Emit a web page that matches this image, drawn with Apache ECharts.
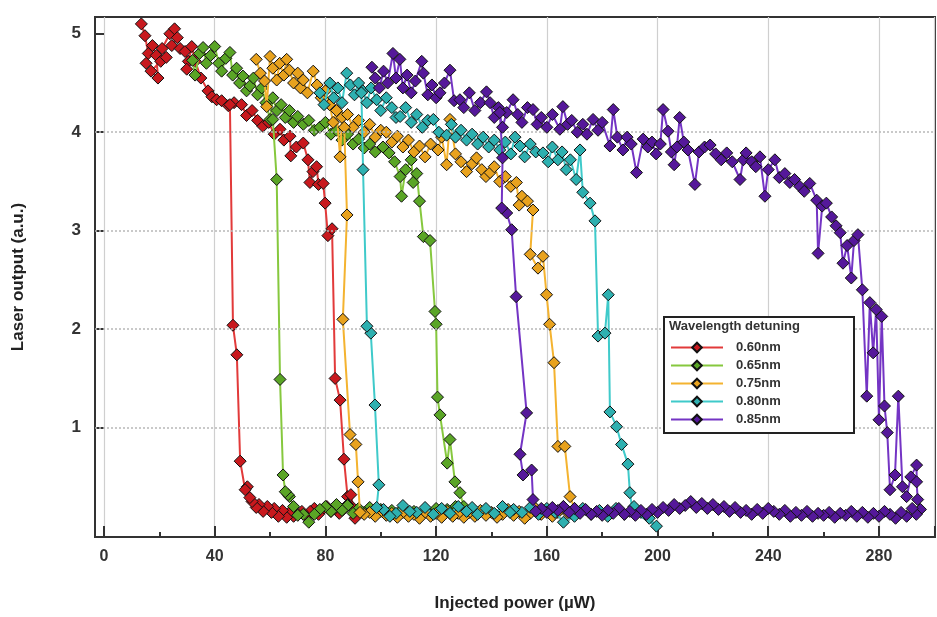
<!DOCTYPE html>
<html><head><meta charset="utf-8">
<script src="https://cdn.jsdelivr.net/npm/echarts@6/dist/echarts.min.js"></script>
<style>html,body{margin:0;padding:0;background:#fff}#c{width:937px;height:617px}</style>
</head><body><div id="c"></div><script>
const xTickLabels = [0,40,80,120,160,200,240,280];
const xMajorTicks = [0,40,80,120,160,200,240,280,300];
const xMinorTicks = [20,60,100,140,180,220,260];
const yTickLabels = [1,2,3,4,5];
const yGridValues = [1,2,3,4];
const seriesNames = ['0.60nm','0.65nm','0.75nm','0.80nm','0.85nm'];

const s060 = [[13.5,5.10],[14.8,4.98],[16.0,4.80],[15.2,4.70],[17.5,4.88],[18.9,4.78],[19.5,4.55],[17.0,4.62],[20.5,4.72],[22.5,4.76],[21.0,4.85],[23.8,5.00],[25.5,5.05],[26.5,4.96],[24.5,4.88],[27.5,4.85],[29.3,4.82],[30.5,4.72],[29.9,4.64],[31.7,4.87],[33.0,4.72],[35.0,4.55],[37.6,4.42],[39.0,4.36],[40.7,4.33],[42.5,4.32],[44.9,4.27],[47.0,4.30],[49.7,4.28],[51.5,4.17],[53.5,4.22],[55.5,4.12],[57.4,4.06],[59.5,4.10],[61.5,3.98],[63.6,4.03],[65.0,3.92],[67.2,3.96],[67.5,3.76],[69.5,3.85],[72.0,3.89],[73.7,3.72],[74.4,3.49],[75.5,3.60],[76.8,3.65],[77.5,3.47],[79.2,3.48],[79.9,3.28],[80.9,2.95],[82.4,3.02],[83.5,1.50],[85.3,1.28],[86.7,0.68],[88.0,0.30],[89.2,0.32],[90.7,0.08],[89.5,0.20],[88.0,0.22],[86.5,0.17],[85.0,0.13],[83.5,0.18],[82.0,0.15],[80.5,0.20],[79.0,0.17],[77.5,0.12],[76.0,0.18],[74.5,0.15],[73.0,0.10],[71.5,0.15],[70.0,0.12],[68.5,0.10],[67.0,0.14],[66.0,0.09],[64.5,0.16],[63.0,0.10],[61.5,0.18],[60.5,0.14],[59.0,0.20],[57.5,0.15],[56.0,0.22],[55.0,0.19],[53.5,0.25],[52.7,0.29],[51.8,0.40],[51.0,0.37],[49.2,0.66],[48.0,1.74],[46.6,2.04],[45.5,4.28]];

const s065 = [[32.0,4.73],[32.9,4.58],[34.5,4.80],[35.8,4.86],[37.0,4.70],[38.5,4.78],[40.0,4.87],[41.5,4.70],[42.5,4.62],[44.0,4.75],[45.5,4.81],[46.5,4.58],[47.9,4.65],[49.0,4.50],[50.2,4.57],[51.5,4.42],[52.7,4.47],[54.0,4.55],[55.5,4.38],[57.0,4.45],[58.5,4.30],[60.0,4.13],[61.0,4.35],[62.5,4.22],[64.0,4.28],[65.5,4.15],[67.0,4.22],[68.5,4.10],[70.0,4.16],[72.0,4.08],[74.0,4.12],[76.0,4.02],[78.0,4.05],[80.0,4.10],[82.0,3.98],[84.0,4.02],[86.0,3.92],[88.0,3.98],[90.0,3.88],[92.0,3.93],[94.0,3.84],[96.0,3.88],[98.0,3.80],[100.8,3.85],[103.0,3.79],[105.0,3.70],[107.0,3.55],[107.5,3.35],[109.0,3.62],[111.0,3.72],[111.7,3.49],[113.0,3.58],[114.0,3.30],[115.4,2.94],[117.8,2.90],[119.6,2.18],[120.0,2.05],[120.5,1.31],[121.4,1.13],[124.0,0.64],[125.0,0.88],[126.8,0.45],[128.6,0.34],[130.0,0.20],[128.5,0.15],[127.0,0.20],[125.5,0.12],[124.0,0.17],[122.0,0.14],[120.0,0.18],[118.0,0.12],[116.0,0.16],[114.0,0.11],[112.0,0.15],[110.0,0.13],[108.0,0.18],[106.0,0.12],[104.0,0.16],[102.0,0.13],[100.0,0.17],[98.0,0.12],[96.0,0.19],[94.0,0.14],[92.0,0.18],[90.0,0.13],[88.0,0.21],[86.0,0.16],[84.0,0.22],[82.0,0.15],[80.0,0.20],[78.0,0.17],[76.0,0.12],[74.0,0.04],[72.0,0.12],[70.0,0.11],[68.5,0.20],[67.0,0.30],[66.5,0.32],[65.5,0.35],[64.7,0.52],[63.6,1.49],[62.4,3.52],[61.0,4.13]];

const s075 = [[55.0,4.74],[56.5,4.60],[58.0,4.52],[58.8,4.26],[60.0,4.77],[61.0,4.65],[62.4,4.53],[63.5,4.70],[65.0,4.58],[66.0,4.74],[67.0,4.63],[68.5,4.50],[70.0,4.60],[71.0,4.45],[72.0,4.53],[73.5,4.40],[75.6,4.62],[77.0,4.48],[78.5,4.35],[80.0,4.42],[81.5,4.28],[82.8,4.10],[84.0,4.22],[85.3,3.75],[86.0,4.15],[88.0,4.18],[90.0,4.05],[92.0,4.12],[94.0,4.00],[96.0,4.08],[98.0,3.95],[100.0,4.02],[102.0,4.00],[104.0,3.90],[106.0,3.96],[108.0,3.85],[110.0,3.92],[112.0,3.80],[114.0,3.86],[116.0,3.75],[118.0,3.88],[120.7,3.82],[122.0,3.95],[123.8,3.67],[125.0,4.13],[127.0,3.78],[129.0,3.70],[131.0,3.60],[133.0,3.68],[134.6,3.74],[136.5,3.62],[138.0,3.55],[139.5,3.59],[141.0,3.65],[143.0,3.50],[145.0,3.55],[147.0,3.45],[149.0,3.49],[150.0,3.26],[151.0,3.35],[153.0,3.30],[155.0,3.21],[154.0,2.76],[156.8,2.62],[158.6,2.74],[159.9,2.35],[161.0,2.05],[162.6,1.66],[164.0,0.81],[166.5,0.81],[168.4,0.30],[170.0,0.18],[168.0,0.12],[166.0,0.20],[164.0,0.14],[162.0,0.10],[160.0,0.16],[158.0,0.12],[156.0,0.18],[154.0,0.13],[152.0,0.08],[150.0,0.15],[148.0,0.11],[146.0,0.17],[144.0,0.12],[142.0,0.09],[140.0,0.14],[138.0,0.11],[136.0,0.16],[134.0,0.10],[132.0,0.14],[130.0,0.09],[128.0,0.13],[126.0,0.10],[124.0,0.15],[122.0,0.09],[120.0,0.13],[118.0,0.10],[116.0,0.14],[114.0,0.08],[112.0,0.12],[110.0,0.10],[108.0,0.14],[106.0,0.09],[104.0,0.13],[102.0,0.11],[100.0,0.15],[98.0,0.10],[96.0,0.14],[94.0,0.12],[92.5,0.14],[91.8,0.45],[91.0,0.83],[88.9,0.93],[86.3,2.10],[87.8,3.16],[86.8,4.05]];

const s080 = [[78.0,4.40],[79.5,4.28],[81.6,4.50],[83.0,4.35],[84.5,4.45],[86.0,4.30],[87.7,4.60],[89.0,4.48],[90.5,4.38],[92.0,4.50],[93.5,4.42],[95.0,4.30],[96.5,4.45],[98.5,4.33],[100.0,4.22],[102.0,4.35],[104.0,4.25],[105.5,4.15],[107.0,4.16],[109.0,4.25],[111.0,4.10],[113.0,4.18],[115.0,4.05],[117.0,4.12],[119.0,4.13],[121.0,4.00],[123.8,3.97],[125.5,4.08],[127.0,3.95],[129.0,4.02],[131.0,3.92],[133.0,3.98],[135.0,3.88],[137.0,3.95],[139.0,3.85],[141.0,3.92],[143.0,3.82],[145.0,3.90],[147.0,3.78],[148.5,3.95],[150.3,3.86],[152.0,3.75],[154.0,3.88],[156.0,3.80],[158.6,3.79],[160.5,3.70],[162.0,3.85],[164.0,3.72],[165.5,3.80],[167.0,3.62],[168.5,3.72],[170.6,3.52],[172.0,3.82],[173.0,3.39],[175.6,3.28],[177.4,3.10],[178.5,1.93],[181.0,1.96],[182.2,2.35],[182.8,1.16],[185.2,1.01],[187.0,0.83],[189.3,0.63],[190.0,0.34],[191.0,0.15],[199.6,0.00],[197.0,0.08],[194.0,0.14],[191.5,0.20],[188.0,0.12],[185.0,0.18],[182.0,0.10],[179.0,0.16],[176.0,0.12],[173.0,0.18],[170.0,0.10],[166.0,0.04],[163.0,0.14],[160.0,0.18],[157.0,0.12],[154.0,0.19],[151.0,0.14],[148.0,0.17],[146.7,0.14],[144.0,0.20],[141.0,0.13],[138.0,0.18],[135.0,0.12],[133.0,0.19],[131.0,0.15],[128.0,0.20],[125.0,0.13],[122.0,0.18],[119.0,0.12],[116.0,0.19],[113.0,0.14],[110.5,0.15],[108.0,0.21],[105.5,0.13],[103.3,0.10],[101.0,0.17],[98.5,0.19],[99.3,0.42],[97.9,1.23],[96.4,1.96],[95.0,2.03],[93.6,3.62],[93.0,4.40]];

const s085 = [[96.8,4.66],[98.0,4.55],[99.5,4.45],[101.0,4.62],[102.5,4.50],[104.4,4.80],[105.5,4.55],[106.9,4.74],[108.0,4.45],[109.5,4.58],[111.0,4.40],[112.5,4.52],[114.8,4.72],[115.4,4.60],[117.0,4.38],[118.5,4.48],[120.0,4.35],[121.4,4.40],[123.0,4.50],[125.0,4.63],[126.5,4.32],[128.6,4.33],[130.0,4.25],[132.0,4.40],[134.0,4.22],[136.0,4.30],[138.2,4.41],[139.5,4.30],[141.0,4.15],[142.5,4.25],[144.0,4.05],[145.5,4.20],[147.8,4.33],[149.5,4.18],[151.0,4.10],[153.0,4.25],[155.0,4.23],[156.5,4.08],[158.0,4.15],[160.0,4.05],[162.0,4.18],[164.7,4.03],[165.8,4.26],[167.5,4.08],[169.0,4.12],[171.0,4.00],[173.0,4.08],[174.5,3.98],[176.7,4.13],[178.5,4.02],[180.0,4.10],[182.8,3.86],[184.0,4.23],[185.5,3.95],[187.5,3.82],[189.0,3.95],[190.5,3.88],[192.4,3.59],[194.8,3.93],[196.5,3.85],[198.0,3.90],[199.5,3.78],[201.0,3.88],[202.0,4.23],[203.8,4.01],[205.0,3.80],[206.0,3.67],[207.0,3.85],[208.0,4.15],[209.5,3.90],[211.0,3.82],[213.5,3.47],[215.0,3.80],[217.0,3.85],[219.0,3.87],[221.0,3.78],[223.0,3.72],[225.0,3.79],[227.0,3.70],[229.8,3.52],[231.0,3.72],[232.0,3.79],[234.0,3.70],[235.5,3.65],[237.0,3.75],[238.8,3.35],[240.0,3.62],[242.4,3.72],[244.0,3.54],[246.0,3.58],[247.8,3.49],[249.5,3.52],[251.4,3.45],[253.0,3.40],[255.0,3.48],[257.5,3.31],[258.0,2.77],[259.5,3.25],[261.0,3.28],[262.9,3.14],[264.5,3.05],[266.0,2.98],[267.0,2.67],[268.5,2.85],[270.0,2.52],[271.0,2.90],[272.4,2.96],[274.0,2.40],[275.6,1.32],[276.7,2.27],[277.9,1.76],[279.0,2.20],[280.0,1.08],[281.0,2.13],[282.0,1.22],[283.0,0.95],[284.0,0.37],[285.8,0.52],[287.0,1.32],[288.5,0.40],[290.0,0.30],[291.5,0.50],[293.6,0.62],[293.6,0.45],[294.0,0.27],[295.0,0.17],[293.5,0.12],[292.0,0.18],[290.0,0.10],[288.0,0.14],[286.0,0.08],[284.0,0.12],[282.0,0.15],[280.0,0.10],[278.0,0.13],[276.0,0.09],[274.0,0.14],[272.0,0.10],[270.0,0.15],[268.0,0.11],[266.0,0.13],[264.0,0.09],[262.0,0.14],[260.0,0.11],[258.0,0.13],[256.0,0.10],[254.0,0.15],[252.0,0.11],[250.0,0.14],[248.0,0.10],[246.0,0.16],[244.0,0.12],[242.0,0.15],[240.0,0.18],[238.0,0.13],[236.0,0.17],[234.0,0.12],[232.0,0.16],[230.0,0.14],[228.0,0.19],[226.0,0.15],[224.0,0.20],[222.0,0.17],[220.0,0.22],[218.0,0.18],[216.0,0.23],[214.0,0.19],[212.0,0.25],[210.0,0.21],[208.0,0.18],[206.0,0.22],[204.0,0.16],[202.0,0.19],[200.0,0.14],[198.0,0.17],[196.0,0.12],[194.0,0.16],[192.0,0.11],[190.0,0.15],[188.0,0.12],[186.0,0.18],[184.0,0.13],[182.0,0.16],[180.0,0.11],[178.0,0.15],[176.0,0.12],[174.0,0.17],[172.0,0.13],[170.0,0.18],[168.0,0.14],[166.0,0.20],[164.0,0.16],[162.0,0.19],[160.0,0.14],[158.0,0.18],[156.0,0.15],[155.0,0.27],[154.5,0.57],[151.4,0.52],[150.3,0.73],[152.7,1.15],[148.9,2.33],[147.3,3.01],[145.5,3.18],[143.7,3.23],[144.0,3.74],[143.0,4.20]];

const seriesData = [s060, s065, s075, s080, s085];
const lineColors = ['#e23a3a', '#86c83e', '#f4b330', '#3fcaca', '#7434c4'];
const markerColors = ['#c8191e', '#5aa526', '#e8a21e', '#2eb0b0', '#55189a'];

const FONT = '"Liberation Sans", Arial, sans-serif';
const chart = echarts.init(document.getElementById('c'), null, {renderer: 'canvas'});

const series = seriesNames.map((name, i) => ({
  name, type: 'line', xAxisIndex: 0, yAxisIndex: 0,
  data: seriesData[i],
  symbol: 'diamond', symbolSize: 12, showAllSymbol: true,
  lineStyle: {color: lineColors[i], width: 2},
  itemStyle: {color: markerColors[i], borderColor: '#111', borderWidth: 1},
  animation: false, z: 2 + i
}));

// dotted horizontal grid lines (no line at 5)
series.unshift({
  name: 'grid', type: 'line', xAxisIndex: 0, yAxisIndex: 0, data: [], z: 1, silent: true,
  markLine: {
    silent: true, symbol: ['none', 'none'], label: {show: false}, animation: false,
    lineStyle: {color: '#b8b8b8', width: 1.5, type: [2, 2]},
    emphasis: {disabled: true},
    data: yGridValues.map(v => ({yAxis: v}))
  }
});

chart.setOption({
  animation: false,
  backgroundColor: '#fff',
  grid: {left: 95, right: 2, top: 17, bottom: 80, outerBoundsMode: 'none', containLabel: false, show: true, borderColor: '#333', borderWidth: 2, backgroundColor: 'transparent'},
  xAxis: [{
    type: 'value', min: -3.25, max: 300.25, position: 'bottom',
    name: 'Injected power (µW)', nameLocation: 'middle', nameGap: 58,
    nameTextStyle: {fontFamily: FONT, fontWeight: 'bold', fontSize: 17, color: '#222'},
    axisLine: {show: true, onZero: false, lineStyle: {color: '#333', width: 2}},
    axisTick: {show: true, inside: true, length: 11, lineStyle: {color: '#333', width: 2}, customValues: xMajorTicks},
    axisLabel: {customValues: xTickLabels, fontFamily: FONT, fontWeight: 'bold', fontSize: 16, color: '#333', margin: 12},
    splitLine: {show: true, lineStyle: {color: '#cfcfcf', width: 1.2}}
  }, {
    type: 'value', min: -3.25, max: 300.25, position: 'bottom',
    axisLine: {show: false, onZero: false},
    axisTick: {show: true, inside: true, length: 5, lineStyle: {color: '#333', width: 2}, customValues: xMinorTicks},
    axisLabel: {show: false},
    splitLine: {show: false}
  }],
  yAxis: {
    type: 'value', min: -0.11, max: 5.17,
    name: 'Laser output (a.u.)', nameLocation: 'middle', nameGap: 68, nameRotate: 90,
    nameTextStyle: {fontFamily: FONT, fontWeight: 'bold', fontSize: 17, color: '#222'},
    axisLine: {show: true, onZero: false, lineStyle: {color: '#333', width: 2}},
    axisTick: {show: true, inside: true, length: 9, lineStyle: {color: '#333', width: 2}, customValues: yTickLabels},
    axisLabel: {customValues: yTickLabels, fontFamily: FONT, fontWeight: 'bold', fontSize: 17, color: '#333', margin: 14},
    splitLine: {show: false}
  },
  legend: {
    data: seriesNames, orient: 'vertical', left: 670, top: 341,
    itemWidth: 52, itemHeight: 12, itemGap: 5, padding: 0,
    textStyle: {fontFamily: FONT, fontWeight: 'bold', fontSize: 13, color: '#333', padding: [0, 0, 0, 8]},
    z: 10
  },
  graphic: [
    {type: 'rect', left: 663, top: 316, z: 8, shape: {width: 190, height: 116}, style: {fill: '#fff', stroke: '#222', lineWidth: 2}},
    {type: 'text', left: 669, top: 320, z: 9, style: {text: 'Wavelength detuning', fontFamily: FONT, fontWeight: 'bold', fontSize: 13, fill: '#333'}}
  ],
  series
});
</script></body></html>
